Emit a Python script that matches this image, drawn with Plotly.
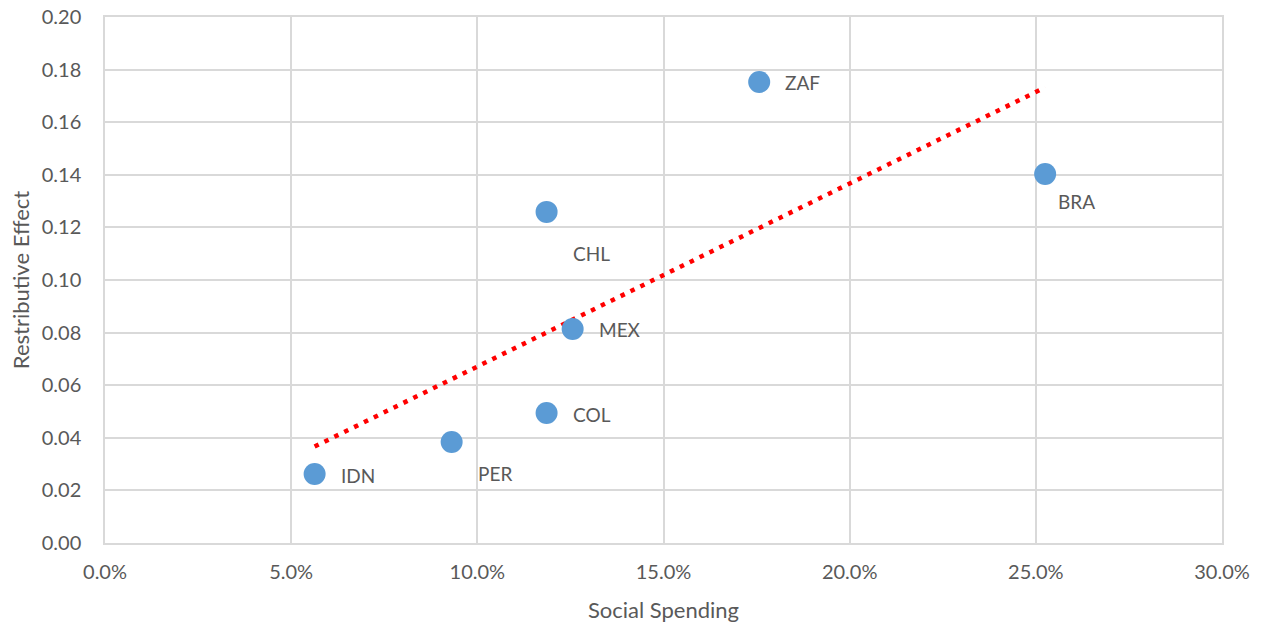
import numpy as np
import plotly.graph_objects as go

countries = ["IDN", "PER", "COL", "CHL", "MEX", "ZAF", "BRA"]
social_spending = [0.0563, 0.0931, 0.1186, 0.1186, 0.1256, 0.1757, 0.2525]
restributive_effect = [0.0262, 0.0384, 0.0494, 0.1259, 0.0814, 0.1753, 0.1403]
# label offsets in pixels (x, y) relative to each point
label_offsets = {"IDN": (30, -1), "PER": (30, -31), "COL": (30, -1), "CHL": (30, -42),
                 "MEX": (30, -1), "ZAF": (30, -1), "BRA": (17, -27)}

FONT = "Lato"
GRAY = "#595959"
GRID = "#D9D9D9"

x = np.array(social_spending)
y = np.array(restributive_effect)
slope, intercept = np.polyfit(x, y, 1)
tx = np.array([x.min(), x.max()])
ty = slope * tx + intercept

fig = go.Figure()
fig.add_trace(go.Scatter(
    x=tx, y=ty, mode="lines",
    line=dict(color="#FF0000", width=4.5, dash="4.5px,6.5px"),
    hoverinfo="skip", showlegend=False,
))
fig.add_trace(go.Scatter(
    x=social_spending, y=restributive_effect, mode="markers",
    marker=dict(size=22, color="#5B9BD5", line=dict(width=0)),
    text=countries, showlegend=False,
))

for c, xv, yv in zip(countries, social_spending, restributive_effect):
    dx, dy = label_offsets[c]
    fig.add_annotation(x=xv, y=yv, text=c, showarrow=False, xanchor="left",
                       yanchor="middle", xshift=dx - 6, yshift=dy,
                       font=dict(family=FONT, size=19, color=GRAY))

fig.update_layout(
    width=1261, height=623,
    margin=dict(l=105, r=39, t=17, b=80, autoexpand=False),
    plot_bgcolor="white", paper_bgcolor="white",
    font=dict(family=FONT, size=20, color=GRAY),
    xaxis=dict(
        range=[0, 0.30], tickvals=[0, 0.05, 0.10, 0.15, 0.20, 0.25, 0.30],
        tickformat=".1%", showgrid=True, gridcolor=GRID, gridwidth=1.5,
        showline=True, linecolor=GRID, linewidth=1.5, mirror=True,
        zeroline=False, ticks="outside", ticklen=10, tickcolor="rgba(0,0,0,0)",
        automargin=False, ticklabeloverflow="allow",
        title=dict(text="Social Spending", standoff=27,
                   font=dict(family=FONT, size=22, color=GRAY)),
        tickfont=dict(family=FONT, size=20, color=GRAY),
    ),
    yaxis=dict(
        range=[0, 0.20], dtick=0.02, tickformat=".2f",
        showgrid=True, gridcolor=GRID, gridwidth=1.5,
        showline=True, linecolor=GRID, linewidth=1.5, mirror=True,
        zeroline=False, ticks="outside", ticklen=18, tickcolor="rgba(0,0,0,0)",
        automargin=False, ticklabeloverflow="allow",
        title=dict(text="Restributive Effect", standoff=6,
                   font=dict(family=FONT, size=22, color=GRAY)),
        tickfont=dict(family=FONT, size=20, color=GRAY),
    ),
)

# remove the page's default body margin so the figure fills the window exactly
fig.write_html("out.html",
               config={"displayModeBar": False},
               post_script="document.body.style.margin='0';document.body.style.overflow='hidden';")
